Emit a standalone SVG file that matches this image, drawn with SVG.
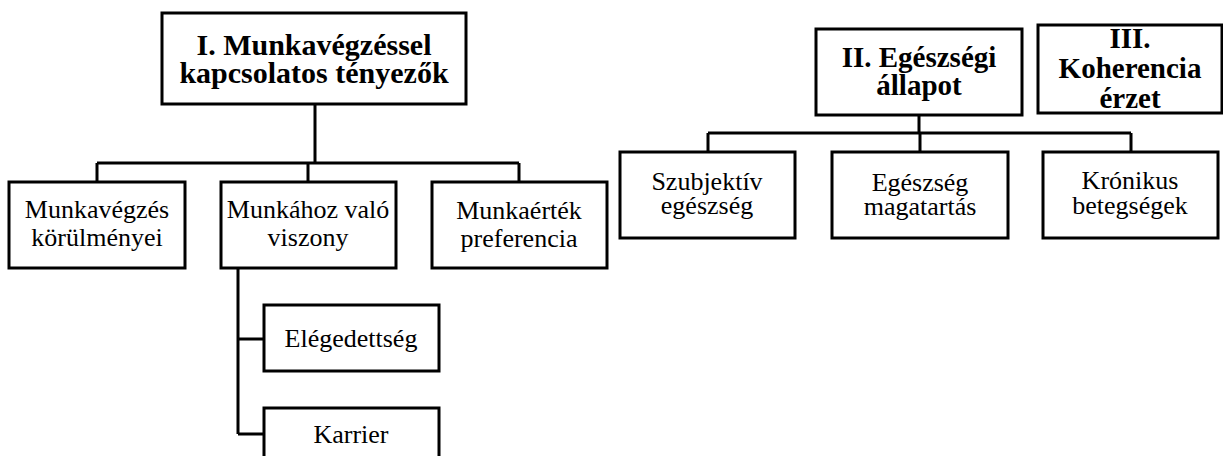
<svg xmlns="http://www.w3.org/2000/svg" width="1223" height="456" viewBox="0 0 1223 456">
<style>
.box{fill:#fff;stroke:#000;stroke-width:3}
.ln{fill:none;stroke:#000;stroke-width:3}
text{font-family:'Liberation Serif','Times New Roman',Tinos,'DejaVu Serif',serif;fill:#000;text-anchor:middle}
.t{font-size:26px}
.b{font-size:30px;font-weight:bold}
.b2{font-size:29px;font-weight:bold}
</style>
<rect width="1223" height="456" fill="#fff"/>
<g id="connectors">
<path class="ln" d="M315 104V163M97 163H519M97 163V182M308 163V182M519 163V182"/>
<path class="ln" d="M238 268V434M238 339H264M238 434H264"/>
<path class="ln" d="M919 115V133M708 133H1131M708 133V152M920 133V152M1131 133V152"/>
</g>
<g id="n1">
<rect class="box" x="162" y="13" width="304" height="91"/>
<text class="b" x="314" y="55" font-family="Liberation Serif, serif">I. Munkavégzéssel</text>
<text class="b" x="314" y="83" font-family="Liberation Serif, serif">kapcsolatos tényezők</text>
</g>
<g id="n1a">
<rect class="box" x="9" y="182" width="176" height="86"/>
<text class="t" x="97" y="218">Munkavégzés</text>
<text class="t" x="97" y="246">körülményei</text>
</g>
<g id="n1b">
<rect class="box" x="221" y="182" width="175" height="86"/>
<text class="t" x="308" y="218">Munkához való</text>
<text class="t" x="308" y="246">viszony</text>
</g>
<g id="n1c">
<rect class="box" x="432" y="182" width="175" height="86"/>
<text class="t" x="519" y="219">Munkaérték</text>
<text class="t" x="519" y="247">preferencia</text>
</g>
<g id="n1b1">
<rect class="box" x="264" y="305" width="175" height="66"/>
<text class="t" x="351" y="347">Elégedettség</text>
</g>
<g id="n1b2">
<rect class="box" x="264" y="408" width="175" height="62"/>
<text class="t" x="351" y="443">Karrier</text>
</g>
<g id="n2">
<rect class="box" x="816" y="29" width="206" height="86"/>
<text class="b2" x="919" y="67">II. Egészségi</text>
<text class="b2" x="919" y="95">állapot</text>
</g>
<g id="n2a">
<rect class="box" x="620" y="152" width="175" height="86"/>
<text class="t" x="707" y="190">Szubjektív</text>
<text class="t" x="707" y="214">egészség</text>
</g>
<g id="n2b">
<rect class="box" x="832" y="152" width="176" height="86"/>
<text class="t" x="920" y="191">Egészség</text>
<text class="t" x="920" y="215">magatartás</text>
</g>
<g id="n2c">
<rect class="box" x="1043" y="152" width="175" height="86"/>
<text class="t" x="1130" y="189">Krónikus</text>
<text class="t" x="1130" y="214">betegségek</text>
</g>
<g id="n3">
<rect class="box" x="1038" y="25" width="184" height="88"/>
<text class="b2" x="1130" y="48">III.</text>
<text class="b2" x="1130" y="78">Koherencia</text>
<text class="b2" x="1130" y="108">érzet</text>
</g>
</svg>
